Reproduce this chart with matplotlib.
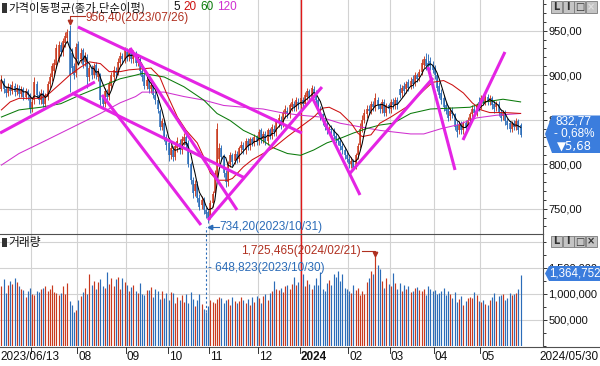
import numpy as np
import pandas as pd
import matplotlib
matplotlib.use('Agg')
import matplotlib.pyplot as plt
from matplotlib.patches import Polygon, Rectangle
from matplotlib.lines import Line2D
from matplotlib.ticker import MultipleLocator, FixedLocator
import matplotlib.transforms as mtrans

# ---------------- data ----------------
start_date = '2023-06-13'
end_date = '2024-05-30'
krx_holidays = ['2023-08-15', '2023-09-28', '2023-09-29', '2023-10-02', '2023-10-03',
                '2023-10-09', '2023-12-25', '2023-12-29', '2024-01-01', '2024-02-09',
                '2024-02-12', '2024-03-01', '2024-04-10', '2024-05-01', '2024-05-06',
                '2024-05-15']

open_ = [885, 893, 884, 880, 887, 882, 888, 881, 886, 879,
         884, 876, 882, 878, 862, 872, 890, 878, 872, 880,
         868, 876, 890, 898, 905, 912, 918, 934, 926, 936,
         942, 950, 925, 910, 902, 935, 918, 928, 915, 920,
         898, 908, 900, 912, 898, 900, 874, 868, 880, 876,
         888, 898, 905, 903, 914, 922, 918, 926, 920, 926,
         918, 924, 914, 918, 905, 900, 888, 895, 884, 889,
         878, 872, 860, 842, 846, 830, 824, 810, 816, 808,
         818, 824, 816, 826, 830, 824, 800, 782, 770, 778,
         762, 754, 760, 748, 746, 742, 756, 768, 786, 806,
         818, 808, 790, 780, 800, 810, 804, 812, 806, 818,
         822, 816, 826, 820, 828, 824, 830, 826, 838, 828,
         834, 826, 838, 832, 840, 836, 846, 850, 846, 856,
         860, 856, 864, 868, 864, 870, 866, 872, 868, 876,
         882, 876, 884, 880, 872, 862, 856, 848, 844, 838,
         840, 838, 832, 828, 826, 820, 816, 810, 806, 800,
         804, 798, 810, 822, 840, 850, 856, 862, 860, 868,
         864, 872, 866, 862, 870, 858, 866, 862, 870, 866,
         872, 884, 880, 888, 884, 892, 888, 896, 892, 900,
         898, 904, 912, 918, 914, 916, 912, 908, 900, 888,
         880, 874, 866, 862, 854, 860, 856, 844, 838, 844,
         838, 846, 842, 850, 856, 862, 858, 870, 866, 874,
         870, 876, 870, 874, 868, 864, 868, 858, 854, 858,
         848, 846, 840, 846, 842, 848, 844]
close = [895, 884, 880, 887, 882, 889, 881, 886, 879, 884,
         876, 882, 878, 862, 870, 892, 878, 872, 880, 868,
         876, 890, 898, 910, 914, 930, 934, 926, 938, 944,
         948, 900, 908, 900, 932, 918, 925, 912, 922, 898,
         908, 900, 910, 900, 904, 872, 868, 882, 876, 890,
         900, 906, 903, 915, 922, 918, 928, 920, 926, 918,
         924, 914, 918, 905, 898, 888, 895, 884, 889, 878,
         872, 862, 842, 848, 830, 822, 810, 818, 808, 820,
         826, 816, 828, 830, 822, 800, 782, 768, 778, 762,
         752, 760, 748, 744, 740, 756, 766, 790, 840, 818,
         808, 790, 780, 800, 810, 802, 812, 805, 818, 822,
         816, 826, 820, 828, 824, 830, 826, 836, 828, 834,
         826, 838, 832, 842, 836, 848, 852, 845, 858, 862,
         856, 866, 870, 864, 872, 866, 874, 868, 878, 882,
         876, 886, 880, 872, 860, 854, 848, 842, 838, 840,
         838, 832, 828, 826, 820, 816, 810, 806, 800, 804,
         796, 810, 820, 840, 850, 858, 862, 860, 868, 864,
         874, 866, 862, 870, 858, 866, 862, 870, 866, 872,
         866, 878, 886, 882, 890, 886, 894, 890, 900, 896,
         904, 914, 918, 910, 912, 910, 906, 900, 886, 878,
         872, 864, 860, 852, 860, 856, 842, 836, 844, 838,
         846, 842, 850, 856, 862, 858, 866, 864, 874, 870,
         876, 870, 874, 866, 862, 868, 858, 852, 858, 848,
         844, 840, 846, 842, 848, 838.45, 832.77]
high = [900, 897, 888, 891, 890, 893, 891, 890, 889, 888,
        887, 886, 885, 880, 874, 898, 894, 882, 884, 883,
        880, 893, 903, 914, 918, 935, 938, 937, 942, 948,
        952, 956.4, 930, 914, 936, 938, 930, 931, 926, 924,
        912, 911, 914, 915, 908, 903, 878, 886, 884, 894,
        904, 910, 909, 919, 926, 925, 932, 930, 930, 929,
        928, 927, 922, 921, 909, 903, 899, 898, 893, 892,
        882, 875, 862, 852, 850, 834, 827, 822, 820, 824,
        830, 828, 832, 835, 833, 827, 803, 786, 782, 781,
        766, 764, 763, 752, 749, 760, 770, 794, 846, 824,
        822, 812, 794, 804, 814, 813, 816, 815, 821, 826,
        825, 829, 829, 831, 831, 834, 833, 839, 841, 837,
        837, 841, 841, 845, 844, 851, 856, 854, 861, 866,
        864, 869, 874, 871, 875, 874, 877, 876, 881, 886,
        885, 889, 888, 883, 874, 865, 858, 851, 847, 843,
        844, 841, 835, 831, 829, 824, 819, 814, 809, 808,
        806, 813, 824, 846, 855, 862, 866, 866, 871, 871,
        880, 876, 869, 873, 873, 869, 869, 873, 874, 876,
        875, 890, 889, 892, 894, 896, 898, 900, 904, 903,
        907, 918, 922, 925, 924, 920, 916, 912, 903, 892,
        884, 878, 870, 866, 864, 864, 858, 848, 848, 848,
        849, 850, 853, 859, 866, 866, 869, 876, 878, 878,
        880, 879, 878, 877, 872, 871, 871, 862, 861, 861,
        852, 849, 849, 850, 852, 851, 846]
low = [882, 880, 876, 877, 878, 879, 877, 878, 875, 875,
       872, 873, 872, 858, 859, 868, 874, 868, 868, 864,
       865, 872, 886, 894, 900, 908, 915, 922, 922, 932,
       938, 881, 902, 896, 898, 912, 914, 908, 910, 886,
       894, 896, 897, 896, 894, 864, 862, 864, 872, 872,
       884, 894, 898, 900, 910, 913, 914, 916, 916, 914,
       914, 910, 910, 900, 894, 884, 884, 880, 880, 874,
       868, 858, 838, 838, 826, 816, 804, 806, 804, 805,
       814, 812, 812, 822, 818, 797, 778, 762, 764, 758,
       748, 750, 744, 740, 734.2, 738, 752, 764, 780, 800,
       804, 786, 774, 776, 797, 798, 800, 801, 802, 814,
       812, 812, 816, 816, 820, 820, 822, 822, 824, 824,
       822, 822, 828, 828, 832, 832, 842, 840, 842, 852,
       852, 852, 860, 860, 860, 862, 862, 864, 864, 872,
       872, 872, 876, 868, 856, 850, 844, 838, 834, 834,
       834, 828, 824, 822, 816, 812, 806, 802, 796, 796,
       793, 795, 806, 818, 836, 846, 852, 856, 856, 860,
       860, 862, 858, 858, 854, 854, 858, 858, 862, 862,
       862, 874, 876, 878, 880, 882, 884, 886, 888, 892,
       894, 900, 908, 906, 908, 906, 902, 896, 882, 874,
       868, 860, 856, 848, 850, 852, 838, 831, 834, 834,
       834, 838, 838, 846, 852, 854, 854, 860, 862, 866,
       866, 866, 866, 862, 858, 860, 854, 848, 850, 844,
       840, 836, 836, 838, 838, 834, 830]
volume_k = [1150, 1280, 1020, 1180, 1250, 1200, 1310, 1230, 1150, 1100,
            1080, 950, 1050, 1120, 1000, 980, 1060, 1030, 1090, 1120,
            1150, 1060, 1100, 1180, 1040, 1010, 990, 1020, 1150, 1000,
            1220, 860, 780, 650, 700, 880, 960, 1040, 1120, 1000,
            1380, 1180, 1250, 1100, 1230, 1280, 1150, 1120, 1420, 1200,
            1300, 1150, 1280, 1330, 1100, 1300, 1240, 1180, 1060, 1130,
            1180, 1060, 1020, 1210, 1000, 980, 1080, 1070, 1140, 950,
            1100, 1050, 900, 1060, 920, 1010, 880, 1040, 1020, 830,
            940, 880, 980, 840, 1000, 820, 1030, 900, 760, 880,
            1000, 800, 720, 648.823, 760, 880, 850, 820, 900, 950,
            930, 830, 880, 900, 790, 940, 860, 830, 870, 940,
            880, 830, 900, 780, 950, 850, 970, 930, 820, 960,
            1000, 880, 1020, 1050, 1250, 1100, 1080, 1120, 1040, 1160,
            1180, 1100, 1200, 1320, 1180, 1240, 1150, 1380, 1160, 1260,
            1200, 1100, 1170, 1300, 1180, 1420, 1100, 1050, 1220, 1260,
            1180, 1390, 1330, 1450, 1250, 1380, 1120, 1100, 1060, 1020,
            1180, 1080, 1120, 990, 1060, 1000, 1230, 1300, 1450, 1380,
            1725.465, 1560, 1480, 1250, 1120, 1310, 1200, 1150, 1400, 1220,
            1100, 1220, 1060, 1180, 1100, 1150, 1040, 1060, 1120, 1130,
            1080, 1050, 1100, 980, 1150, 1100, 1050, 1080, 1000, 1020,
            1050, 1120, 980, 1060, 1000, 920, 1030, 850, 900, 960,
            780, 870, 920, 940, 930, 1030, 980, 870, 840, 880,
            810, 790, 880, 940, 1010, 860, 960, 990, 1000, 880,
            920, 1010, 990, 1000, 1020, 1100, 1364.752]

# moving averages (bar index, value)
ma20_idx = [0, 4, 8, 13, 18, 22, 27, 31, 36, 40, 45, 49, 54, 58, 68, 72, 75, 80, 84, 89,
            92, 95, 98, 103, 105, 110, 114, 119, 124, 130, 136, 142, 146, 149, 154, 159,
            162, 164, 168, 172, 177, 184, 192, 196, 201, 205, 210, 214, 218, 222, 229, 236]
ma20_val = [861, 870, 874, 874, 874, 880, 891, 900, 909, 915, 913, 904, 904, 906, 908, 898,
            880, 853, 838, 824, 808, 790, 782, 782, 784, 797, 805, 812, 819, 831, 842, 853,
            863, 864, 858, 846, 835, 831, 833, 846, 853, 864, 883, 892, 894, 889, 880, 869,
            861, 858, 858, 857]
ma60_idx = [0, 8, 18, 27, 36, 45, 54, 61, 64, 74, 83, 92, 98, 104, 110, 116, 124, 130,
            136, 142, 148, 154, 160, 166, 172, 178, 186, 195, 204, 213, 220, 228, 236]
ma60_val = [853, 861, 864, 868, 878, 887, 896, 900, 902, 898, 887, 872, 857, 849, 838, 831,
            818, 812, 810, 816, 824, 829, 835, 840, 844, 846, 857, 862, 863, 864, 870, 873, 870]
ma120_idx = [0, 8, 18, 27, 36, 45, 54, 61, 64, 74, 83, 92, 101, 110, 119, 127, 136, 145,
             154, 163, 172, 179, 186, 192, 200, 207, 216, 225, 236]
ma120_val = [799, 812, 824, 835, 846, 857, 869, 876, 881, 881, 876, 872, 866, 864, 862, 858,
             855, 853, 846, 842, 838, 836, 834, 834, 840, 844, 852, 855, 857]

# hand-drawn trend lines (bar index, price)
trend_i0 = [-0.6, 34.8, 32.1, 45.7, 58.5, 93.9, 141.2, 158.5, 193.9, 209.8]
trend_p0 = [835.0, 954.2, 880.0, 877.8, 930.6, 737.3, 875.5, 790.0, 909.2, 827.2]
trend_i1 = [42.5, 136.6, 110.7, 90.7, 107.1, 145.7, 163.0, 196.2, 206.2, 228.9]
trend_p1 = [892.4, 835.0, 784.5, 731.7, 748.6, 886.7, 765.4, 896.9, 793.5, 926.1]

price_ticks = [750, 800, 850, 900, 950]
volume_ticks = [500000, 1000000, 1500000]
ma_periods = ['5', '20', '60', '120']

# ---------------- styling ----------------
RED = '#C8391E'
BLUE = '#2B6CB8'
C_MA5 = '#000000'
C_MA20 = '#CC1010'
C_MA60 = '#0A7A0A'
C_MA120 = '#D030D0'
C_TREND = '#E424E4'
GRID = '#D2D2D2'
BOX = '#3B7DDD'
KFONT = ['Noto Sans CJK KR', 'DejaVu Sans']
NFONT = ['Liberation Sans', 'DejaVu Sans']

W, H = 600, 366
fig = plt.figure(figsize=(6, 3.66), dpi=100)
fig.patch.set_facecolor('white')


def P(x, y):
    return (x / W, 1 - y / H)


AX_R = 542.7
ax_p = fig.add_axes([0, 1 - 234 / H, AX_R / W, 234 / H])
ax_v = fig.add_axes([0, 1 - 346 / H, AX_R / W, 112 / H])

dates = pd.bdate_range(start_date, end_date)
dates = dates[~dates.isin(pd.to_datetime(krx_holidays))]
N = len(dates)
idx = np.arange(N)
o = np.array(open_, float)
c = np.array(close, float)
hi = np.array(high, float)
lo = np.array(low, float)
vol = np.array(volume_k, float) * 1000
colors = np.where(c >= o, RED, BLUE)

month_starts = [i for i in range(1, N) if dates[i].month != dates[i - 1].month]

XL = (-1.4 / 2.2, (AX_R - 1.4) / 2.2)
for ax in (ax_p, ax_v):
    ax.set_xlim(*XL)
    ax.set_facecolor('white')
    for s in ('left', 'top', 'bottom'):
        ax.spines[s].set_visible(False)
    ax.spines['right'].set_color('#505050')
    ax.spines['right'].set_linewidth(0.8)
    ax.yaxis.tick_right()
    ax.set_xticks([])
    ax.tick_params(axis='y', which='major', length=3, width=0.7, color='#333333',
                   pad=1, labelsize=8, labelcolor='#111111')
    ax.tick_params(axis='y', which='minor', length=2.5, width=0.7, color='#333333')
    for m in month_starts:
        ax.axvline(m - 0.5, color=GRID, lw=0.8, zorder=0)
    ax.axvline(136, color='#E01818', lw=1.0, zorder=1)
ax_v.spines['top'].set_visible(True)
ax_v.spines['top'].set_color('#505050')
ax_v.spines['top'].set_linewidth(0.8)

# price panel
ax_p.set_ylim(721.57, 984.49)
ax_p.yaxis.set_major_locator(FixedLocator(price_ticks))
ax_p.set_yticklabels([f'{t:.2f}'.replace('.', ',') for t in price_ticks])
ax_p.yaxis.set_minor_locator(MultipleLocator(10))
for t in price_ticks:
    ax_p.axhline(t, color=GRID, lw=0.8, zorder=0)

ax_p.vlines(idx, lo, hi, colors=colors, lw=0.65, zorder=2)
ax_p.vlines(idx, np.minimum(o, c), np.maximum(o, c), colors=colors, lw=1.1, zorder=2)

ma5 = pd.Series(c).rolling(5, min_periods=1).mean()
ax_p.plot(ma120_idx, ma120_val, color=C_MA120, lw=0.75, zorder=3)
ax_p.plot(ma60_idx, ma60_val, color=C_MA60, lw=0.75, zorder=3)
ax_p.plot(ma20_idx, ma20_val, color=C_MA20, lw=0.75, zorder=3)
ax_p.plot(idx, ma5, color=C_MA5, lw=0.75, zorder=3)

for a0, b0, a1, b1 in zip(trend_i0, trend_p0, trend_i1, trend_p1):
    ax_p.plot([a0, a1], [b0, b1], color=C_TREND, lw=2.2, solid_capstyle='butt', zorder=4)

# max / min annotations (price)
imax = int(np.argmax(hi))
imin = int(np.argmin(lo))
d_max = dates[imax].strftime('%Y/%m/%d')
d_min = dates[imin].strftime('%Y/%m/%d')
ax_p.plot([imax + 7.0, imax, imax], [966.0, 966.0, hi[imax] + 2.5], color='#B03020', lw=0.8, zorder=5)
ax_p.plot([imax], [hi[imax] + 3.2], marker='v', ms=3.2, color='#B03020', zorder=5)
ax_p.text(imax + 7.3, 963.9, f'{hi[imax]:.2f}'.replace('.', ',') + f'({d_max})', color='#B03020',
          fontsize=8.5, family=NFONT, va='center', ha='left', zorder=6)
ax_p.plot([imin + 5.0, imin + 0.7], [729.4, 729.4], color='#2B6CB8', lw=0.8, zorder=5)
ax_p.plot([imin + 0.9], [729.4], marker='<', ms=3.2, color='#2B6CB8', zorder=5)
ax_p.text(imin + 5.2, 729.0, f'{lo[imin]:.2f}'.replace('.', ',') + f'({d_min})', color='#2B6CB8',
          fontsize=8.5, family=NFONT, va='center', ha='left', zorder=6)

# volume panel
ax_v.set_ylim(0, 2153846)
ax_v.yaxis.set_major_locator(FixedLocator(volume_ticks))
ax_v.set_yticklabels([f'{t:,}' for t in volume_ticks])
ax_v.yaxis.set_minor_locator(MultipleLocator(250000))
for t in volume_ticks + [2000000]:
    ax_v.axhline(t, color=GRID, lw=0.8, zorder=0)
ax_v.vlines(idx, 0, vol, colors=colors, lw=0.85, zorder=2)

vmax_i = int(np.argmax(vol))
vmin_i = int(np.argmin(vol))
ax_v.plot([vmax_i - 6.3, vmax_i, vmax_i], [1827000, 1827000, vol[vmax_i] + 40000],
          color='#B03020', lw=0.8, zorder=5)
ax_v.plot([vmax_i], [vol[vmax_i] + 50000], marker='v', ms=3.2, color='#B03020', zorder=5)
ax_v.text(vmax_i - 6.5, 1830000, f'{int(round(vol[vmax_i])):,}({dates[vmax_i].strftime("%Y/%m/%d")})',
          color='#B03020', fontsize=8.5, family=NFONT, va='center', ha='right', zorder=6)
ax_v.plot([vmin_i, vmin_i], [vol[vmin_i], 2280000], color='#2B6CB8', lw=0.8,
          ls=(0, (2, 2)), clip_on=False, zorder=5)
ax_v.text(vmin_i + 0.9, 1500000, f'- {int(round(vol[vmin_i])):,}({dates[vmin_i].strftime("%Y/%m/%d")})',
          color='#2B6CB8', fontsize=8.5, family=NFONT, va='center', ha='left', zorder=6)

for ax in (ax_p, ax_v):
    for lab in ax.get_yticklabels():
        lab.set_fontfamily(NFONT)

# date axis
fig.add_artist(Line2D([0, 1], [1 - 346.5 / H] * 2, color='#505050', lw=0.8))
tr = mtrans.blended_transform_factory(ax_v.transData, fig.transFigure)
for m in month_starts:
    fig.add_artist(Line2D([m - 0.5, m - 0.5], [1 - 347 / H, 1 - 353 / H], color='#333333',
                          lw=0.7, transform=tr))
    if dates[m].month == 7:
        continue
    lab = '2024' if dates[m].month == 1 else dates[m].strftime('%m')
    fig.text(m + 0.0, 1 - 357 / H, lab, transform=tr, fontsize=8.5, family=NFONT,
             fontweight='bold' if lab == '2024' else 'normal', va='center', ha='left', color='#111111')
fig.text(*P(0.5, 357), dates[0].strftime('%Y/%m/%d'), fontsize=8.5, family=NFONT,
         va='center', ha='left', color='#111111')
fig.text(*P(599, 357), dates[-1].strftime('%Y/%m/%d'), fontsize=8.5, family=NFONT,
         va='center', ha='right', color='#111111')

# titles
fig.add_artist(Rectangle(P(2, 12.5), 5 / W, 9 / H, color='#333333', lw=0))
fig.add_artist(Rectangle(P(2, 247), 5 / W, 9 / H, color='#333333', lw=0))
fig.text(*P(8.5, 7.5), '가격이동평균(종가,단순이평)', fontsize=8.2, family=KFONT, va='center', ha='left',
         color='#111111')
ma_cols = ['#111111', C_MA20, C_MA60, C_MA120]
ma_x = [173, 183, 200, 217]
for lab, col, xp in zip(ma_periods, ma_cols, ma_x):
    fig.text(*P(xp, 7.5), lab, fontsize=8.5, family=NFONT, va='center', ha='left', color=col)
fig.text(*P(8.5, 242.5), '거래량', fontsize=8.5, family=KFONT, va='center', ha='left', color='#111111')

# control buttons
for yb in (1.5, 236):
    for k, sym in enumerate(['L', 'I', '□', '×']):
        x0 = 551 + k * 11.6
        fig.add_artist(Rectangle(P(x0, yb + 11), 11 / W, 11 / H, facecolor='#C4C4C4',
                                 edgecolor='#7A7A7A', lw=0.6))
        fig.text(*P(x0 + 5.5, yb + 5.5), sym, fontsize=7, family=['DejaVu Sans'],
                 fontweight='bold', va='center', ha='center',
                 color='#E0E0E0' if (sym == '×' and yb < 10) else '#303030')

# current price box
fig.add_artist(Polygon([P(545, 134), P(552, 115.5), P(600, 115.5), P(600, 153), P(552, 153)],
                       closed=True, facecolor=BOX, edgecolor='none'))
last = c[-1]
prev = c[-2]
chg = last - prev
fig.text(*P(574, 122), f'{last:.2f}'.replace('.', ','), fontsize=8.5, family=NFONT,
         color='white', va='center', ha='center')
fig.text(*P(574, 134), f'- {abs(chg) / prev * 100:.2f}%'.replace('.', ','), fontsize=8.5,
         family=NFONT, color='white', va='center', ha='center')
fig.text(*P(574, 146), f'▼{abs(chg):.2f}'.replace('.', ','), fontsize=8.5,
         family=['DejaVu Sans'], color='white', va='center', ha='center')

# current volume box
fig.add_artist(Polygon([P(545, 273.5), P(549, 266), P(600, 266), P(600, 281), P(549, 281)],
                       closed=True, facecolor=BOX, edgecolor='none'))
fig.text(*P(574.5, 273.5), f'{int(round(vol[-1])):,}', fontsize=8.3, family=NFONT,
         color='white', va='center', ha='center')

fig.savefig('out.png', dpi=100, facecolor='white')
